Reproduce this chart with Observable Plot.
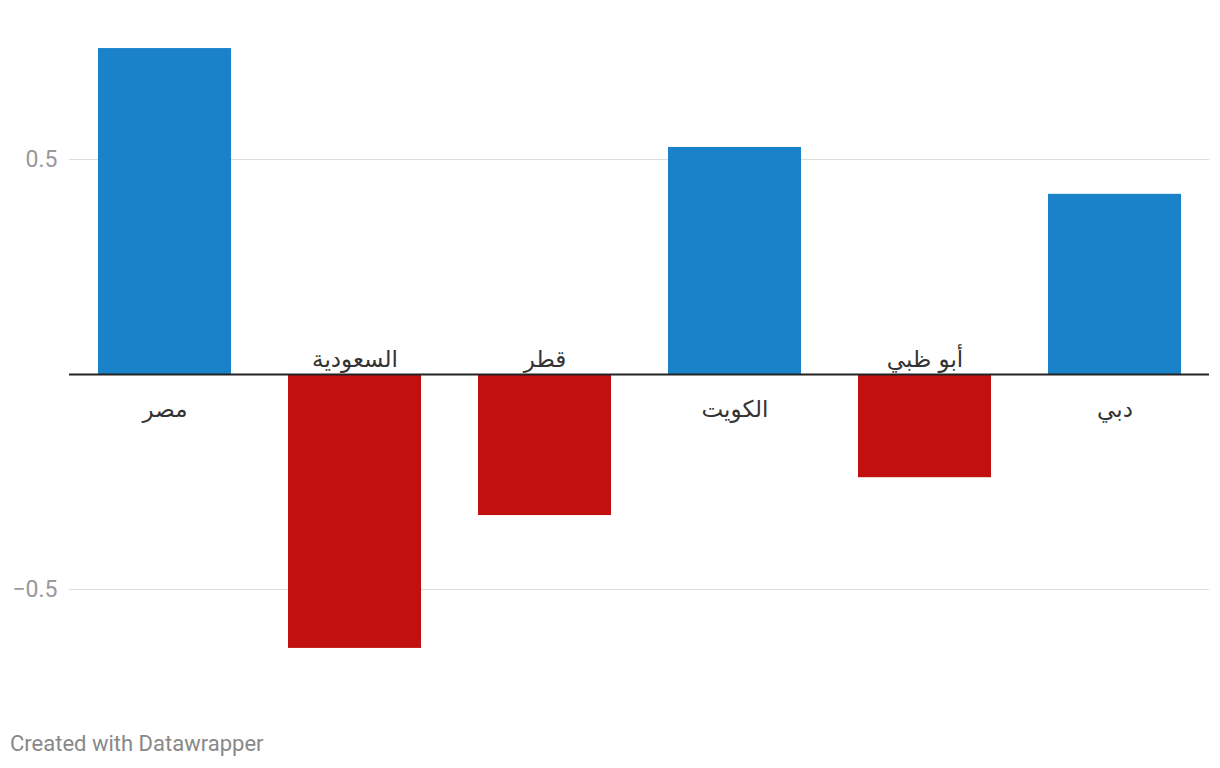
<!DOCTYPE html>
<html>
<head>
<meta charset="utf-8">
<script src="https://cdn.jsdelivr.net/npm/d3@7"></script>
<script src="https://cdn.jsdelivr.net/npm/@observablehq/plot@0.6"></script>
<style>
  body { margin: 0; background: #fff; font-family: Roboto, sans-serif; }
  #chart { position: absolute; left: 0; top: 0; }
  #caption { position: absolute; left: 10px; top: 731px; font: 22px Roboto, sans-serif; color: #888; line-height: 1.2; }
</style>
</head>
<body>
<div id="chart"></div>
<div id="caption">Created with Datawrapper</div>
<script>
const categories = ["مصر", "السعودية", "قطر", "الكويت", "أبو ظبي", "دبي"];
const values = [0.758, -0.637, -0.328, 0.528, -0.240, 0.419];
const yTicks = [-0.5, 0.5];

const data = categories.map((c, i) => ({category: c, value: values[i]}));

const chart = Plot.plot({
  width: 1220,
  height: 705,
  marginTop: 8.5,
  marginBottom: 8.5,
  marginLeft: 69,
  marginRight: 11,
  style: {fontFamily: "Roboto, sans-serif", background: "#fff"},
  x: {domain: categories, paddingInner: 0.3, paddingOuter: 0.15, axis: null},
  y: {domain: [-0.75, 0.85], axis: null, label: null},
  marks: [
    Plot.gridY(yTicks, {stroke: "#ddd", strokeOpacity: 1, strokeWidth: 1}),
    Plot.axisY(yTicks, {tickSize: 0, tickPadding: 12, fontSize: 23, fill: "#999", label: null, tickFormat: d3.format(".1f")}),
    Plot.barY(data, {x: "category", y: "value", fill: d => d.value >= 0 ? "#1a82c8" : "#c11010"}),
    Plot.ruleY([0], {stroke: "#222", strokeWidth: 2}),
    Plot.text(data.filter(d => d.value >= 0), {x: "category", y: 0, text: "category", dy: 35, fontSize: 23, fill: "#333", fontFamily: "'DejaVu Sans', sans-serif"}),
    Plot.text(data.filter(d => d.value < 0), {x: "category", y: 0, text: "category", dy: -15, fontSize: 23, fill: "#333", fontFamily: "'DejaVu Sans', sans-serif"})
  ]
});
document.getElementById("chart").appendChild(chart);
</script>
</body>
</html>
